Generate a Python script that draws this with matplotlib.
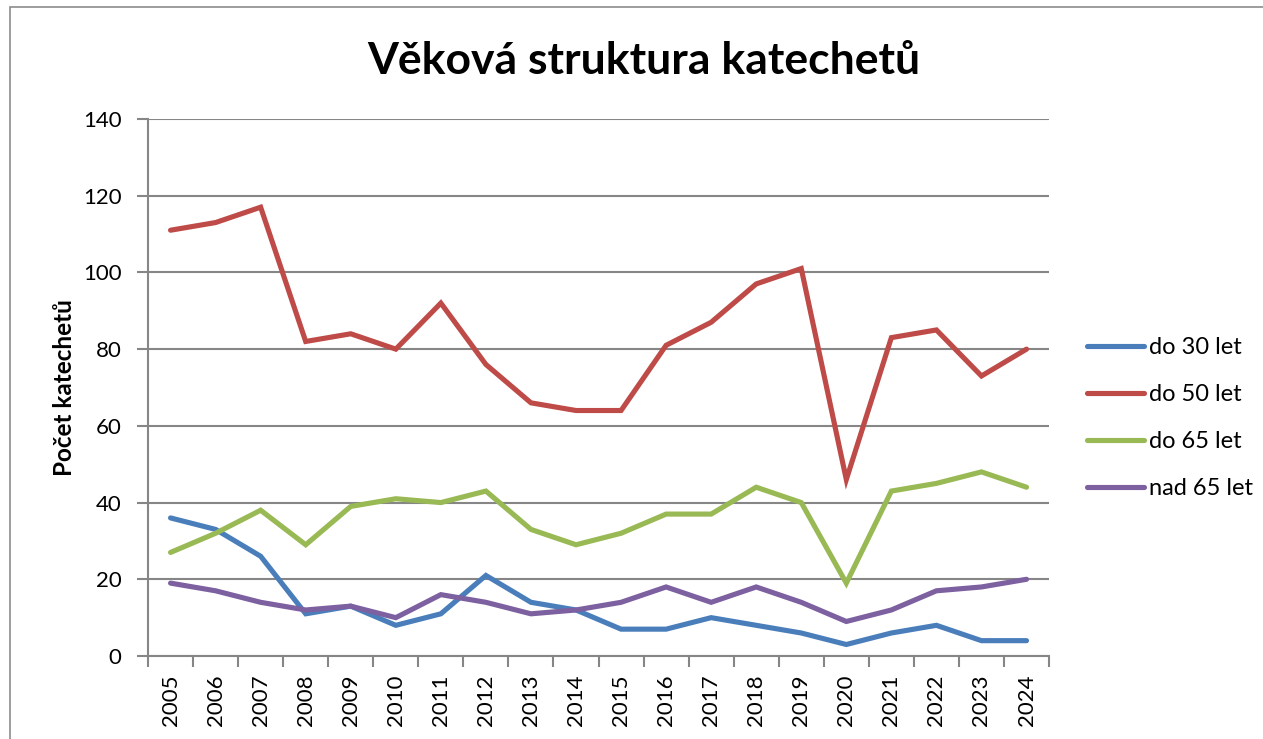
import matplotlib.pyplot as plt
from matplotlib.patches import Rectangle
from matplotlib.ticker import FixedLocator

years = list(range(2005, 2025))
do_30 = [36, 33, 26, 11, 13, 8, 11, 21, 14, 12, 7, 7, 10, 8, 6, 3, 6, 8, 4, 4]
do_50 = [111, 113, 117, 82, 84, 80, 92, 76, 66, 64, 64, 81, 87, 97, 101, 46, 83, 85, 73, 80]
do_65 = [27, 32, 38, 29, 39, 41, 40, 43, 33, 29, 32, 37, 37, 44, 40, 19, 43, 45, 48, 44]
nad_65 = [19, 17, 14, 12, 13, 10, 16, 14, 11, 12, 14, 18, 14, 18, 14, 9, 12, 17, 18, 20]

series = [("do 30 let", do_30, "#4A7EBB"),
          ("do 50 let", do_50, "#BE4B48"),
          ("do 65 let", do_65, "#98B954"),
          ("nad 65 let", nad_65, "#7D60A0")]

plt.rcParams['font.family'] = ['Lato', 'DejaVu Sans']

fig = plt.figure(figsize=(12.63, 7.39), dpi=100)
# ramecek grafu (pokracuje za pravy a dolni okraj)
fig.patches.append(Rectangle((0.008, -0.01), 1.2, 1.0, transform=fig.transFigure,
                             fill=False, edgecolor="#8c8c8c", linewidth=1.2))

ax = fig.add_axes([0.1172, 0.1123, 0.7134, 0.7267])
x = list(range(len(years)))
for name, vals, col in series:
    ax.plot(x, vals, color=col, linewidth=3.7, label=name, solid_capstyle="round",
            solid_joinstyle="miter")

ax.set_xlim(-0.5, len(years) - 0.5)
ax.set_ylim(0, 140)
ax.set_yticks(range(0, 141, 20))
ax.set_xticks(x)
ax.set_xticklabels([str(y) for y in years], rotation=90, fontsize=16)
ax.xaxis.set_minor_locator(FixedLocator([i - 0.5 for i in range(len(years) + 1)]))
ax.tick_params(axis="x", which="major", length=0, pad=13)
ax.tick_params(axis="x", which="minor", length=8, width=1.5, color="#868686")
ax.tick_params(axis="y", length=8, width=1.5, color="#868686", labelsize=16, pad=11)
ax.grid(axis="y", color="#868686", linewidth=1.5)
ax.set_axisbelow(True)
for s in ["top", "right"]:
    ax.spines[s].set_visible(False)
for s in ["left", "bottom"]:
    ax.spines[s].set_color("#868686")
    ax.spines[s].set_linewidth(1.5)

ax.set_ylabel("Počet katechetů", fontsize=17.5, fontweight="bold", labelpad=5)
fig.text(0.51, 0.918, "Věková struktura katechetů", ha="center", va="center",
         fontsize=32, fontweight="bold")

ax.legend(loc="center left", bbox_to_anchor=(0.861, 0.434), bbox_transform=fig.transFigure,
          frameon=False, fontsize=17, handlelength=2.4, handletextpad=0.2,
          labelspacing=1.1, borderpad=0, borderaxespad=0)

fig.savefig("out.png", dpi=100)
